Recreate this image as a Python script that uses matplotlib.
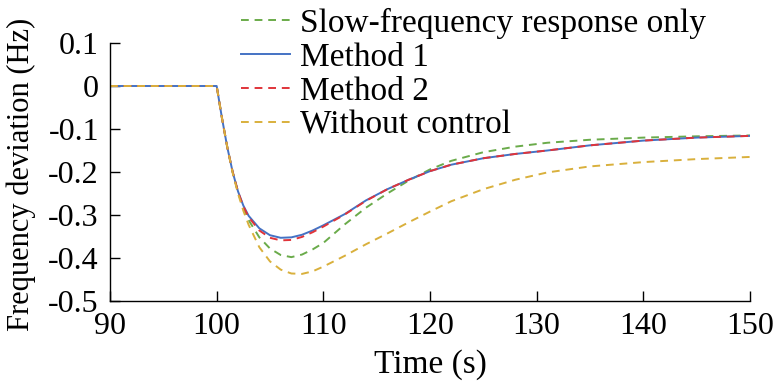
import matplotlib
matplotlib.use("Agg")
import numpy as np
import matplotlib.pyplot as plt

# --- data ---
t = [90, 100, 100.5, 101, 101.5, 102, 102.5, 103, 104, 105, 106, 107, 108, 109,
     110, 112, 114, 116, 118, 120, 122, 125, 128, 131, 135, 140, 145, 150]

slow_only = [0, 0, -0.075, -0.143, -0.200, -0.247, -0.283, -0.312, -0.352, -0.378,
             -0.393, -0.398, -0.392, -0.380, -0.365, -0.322, -0.283, -0.250, -0.220,
             -0.194, -0.174, -0.154, -0.141, -0.132, -0.125, -0.120, -0.117, -0.115]
method1 = [0, 0, -0.075, -0.143, -0.200, -0.245, -0.278, -0.302, -0.331, -0.347,
           -0.353, -0.352, -0.346, -0.336, -0.324, -0.298, -0.266, -0.240, -0.218,
           -0.198, -0.183, -0.168, -0.158, -0.150, -0.138, -0.127, -0.120, -0.116]
method2 = [0, 0, -0.075, -0.143, -0.200, -0.246, -0.280, -0.305, -0.336, -0.353,
           -0.359, -0.358, -0.351, -0.340, -0.327, -0.299, -0.267, -0.240, -0.218,
           -0.198, -0.183, -0.168, -0.158, -0.150, -0.138, -0.127, -0.120, -0.116]
no_control = [0, 0, -0.075, -0.143, -0.202, -0.250, -0.290, -0.323, -0.375, -0.408,
              -0.427, -0.436, -0.437, -0.431, -0.420, -0.395, -0.368, -0.343, -0.317,
              -0.292, -0.268, -0.240, -0.218, -0.201, -0.187, -0.177, -0.170, -0.165]

labels = ["Slow-frequency response only", "Method 1", "Method 2", "Without control"]
x_ticks = [90, 100, 110, 120, 130, 140, 150]
y_ticks = [0.1, 0, -0.1, -0.2, -0.3, -0.4, -0.5]
y_tick_labels = ["0.1", "0", "-0.1", "-0.2", "-0.3", "-0.4", "-0.5"]

plt.rcParams["font.family"] = ["Liberation Serif", "DejaVu Serif"]
plt.rcParams["font.size"] = 23

fig = plt.figure(figsize=(7.78, 3.87), dpi=100)
ax = fig.add_axes([110 / 778, 1 - 301 / 387, 640 / 778, 258 / 387])

ax.plot(t, slow_only, color="#6AAB4A", lw=1.4, dashes=(4, 3), label=labels[0])
ax.plot(t, method1, color="#4472C4", lw=1.4, label=labels[1])
ax.plot(t, method2, color="#E0343A", lw=1.4, dashes=(4, 3), label=labels[2])
ax.plot(t, no_control, color="#D9B03C", lw=1.4, dashes=(4, 3), label=labels[3])

ax.set_xlim(90, 150)
ax.set_ylim(-0.5, 0.1)
ax.set_xticks(x_ticks)
ax.set_yticks(y_ticks)
ax.set_yticklabels(y_tick_labels)
ax.tick_params(direction="in", length=7, width=1, pad=8)
for s in ["top", "right"]:
    ax.spines[s].set_visible(False)
for s in ["left", "bottom"]:
    ax.spines[s].set_linewidth(1)

ax.set_xlabel("Time (s)", fontsize=24, labelpad=6)
ax.set_ylabel("Frequency deviation (Hz)", fontsize=22)
ax.yaxis.set_label_coords(-0.115, 0.49)

fig.legend(loc="upper left", bbox_to_anchor=(218 / 778, 1.04), frameon=False,
           fontsize=24, handlelength=1.45, handletextpad=0.3, labelspacing=0.1,
           borderpad=0.2)

fig.savefig("out.png", dpi=100)
